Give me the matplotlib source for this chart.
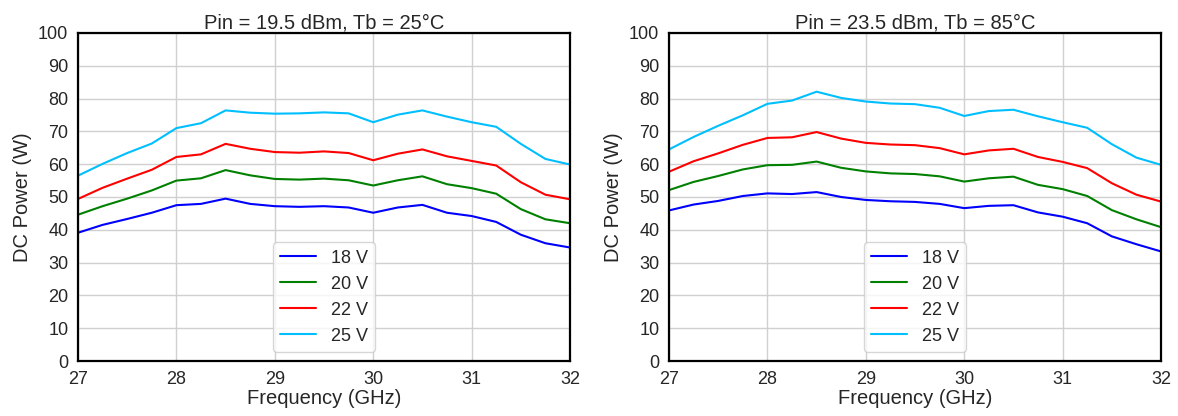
import numpy as np
import matplotlib
matplotlib.use("Agg")
import matplotlib.pyplot as plt
import seaborn as sns

sns.set_style("whitegrid")
plt.rcParams['font.family'] = ['Liberation Sans', 'DejaVu Sans']

# frequency points (GHz)
freq = [27.0, 27.25, 27.5, 27.75, 28.0, 28.25, 28.5, 28.75, 29.0, 29.25, 29.5,
        29.75, 30.0, 30.25, 30.5, 30.75, 31.0, 31.25, 31.5, 31.75, 32.0]

labels = ["18 V", "20 V", "22 V", "25 V"]
colors = ["blue", "green", "red", "deepskyblue"]

# Pin = 19.5 dBm, Tb = 25C
left_18 = [39.1, 41.5, 43.3, 45.2, 47.5, 47.9, 49.5, 47.9, 47.2, 47.0, 47.2,
           46.8, 45.2, 46.8, 47.6, 45.2, 44.2, 42.4, 38.5, 35.9, 34.6]
left_20 = [44.6, 47.2, 49.5, 52.0, 55.0, 55.7, 58.2, 56.6, 55.5, 55.3, 55.6,
           55.1, 53.5, 55.1, 56.3, 53.9, 52.7, 51.0, 46.3, 43.2, 42.0]
left_22 = [49.4, 52.8, 55.6, 58.3, 62.2, 63.0, 66.2, 64.7, 63.7, 63.5, 63.9,
           63.4, 61.2, 63.2, 64.5, 62.4, 61.0, 59.6, 54.5, 50.7, 49.3]
left_25 = [56.5, 60.1, 63.4, 66.3, 71.0, 72.5, 76.4, 75.7, 75.4, 75.5, 75.8,
           75.5, 72.8, 75.1, 76.4, 74.5, 72.8, 71.4, 66.2, 61.6, 59.9]

# Pin = 23.5 dBm, Tb = 85C
right_18 = [45.9, 47.7, 48.8, 50.3, 51.1, 50.9, 51.5, 50.0, 49.1, 48.7, 48.5,
            47.9, 46.6, 47.3, 47.5, 45.3, 44.0, 42.0, 38.0, 35.6, 33.4]
right_20 = [52.1, 54.6, 56.4, 58.4, 59.7, 59.8, 60.8, 58.9, 57.8, 57.2, 57.0,
            56.3, 54.7, 55.7, 56.2, 53.7, 52.4, 50.3, 46.0, 43.2, 40.8]
right_22 = [57.7, 60.9, 63.3, 65.9, 68.0, 68.2, 69.8, 67.8, 66.5, 66.0, 65.8,
            64.9, 63.0, 64.2, 64.7, 62.2, 60.7, 58.8, 54.2, 50.7, 48.6]
right_25 = [64.5, 68.3, 71.7, 74.9, 78.4, 79.4, 82.1, 80.2, 79.1, 78.5, 78.3,
            77.2, 74.7, 76.2, 76.6, 74.6, 72.8, 71.1, 66.1, 62.0, 59.8]

panels = [
    ("Pin = 19.5 dBm, Tb = 25°C", [left_18, left_20, left_22, left_25]),
    ("Pin = 23.5 dBm, Tb = 85°C", [right_18, right_20, right_22, right_25]),
]

fig = plt.figure(figsize=(11.78, 4.16), dpi=100)
axes = [fig.add_axes([0.0662, 0.1322, 0.4177, 0.7885]),
        fig.add_axes([0.5679, 0.1322, 0.4177, 0.7885])]

for ax, (title, series) in zip(axes, panels):
    for vals, lab, col in zip(series, labels, colors):
        ax.plot(freq, vals, color=col, lw=1.5, label=lab)
    ax.set_xlim(27, 32)
    ax.set_ylim(0, 100)
    ax.set_xticks(range(27, 33))
    ax.set_yticks(range(0, 101, 10))
    ax.tick_params(labelsize=13, colors="#262626")
    ax.set_xlabel("Frequency (GHz)", fontsize=14.5, color="#262626", labelpad=1)
    ax.set_ylabel("DC Power (W)", fontsize=14.5, color="#262626", labelpad=4)
    ax.set_title(title, fontsize=14.5, color="#262626", pad=3)
    ax.grid(True, color="#d0d0d0", lw=1)
    for s in ax.spines.values():
        s.set_color("black")
        s.set_linewidth(1.6)
    ax.legend(loc="lower center", fontsize=13, frameon=True, handlelength=2,
              edgecolor="#cccccc")

fig.savefig("out.png", dpi=100)
